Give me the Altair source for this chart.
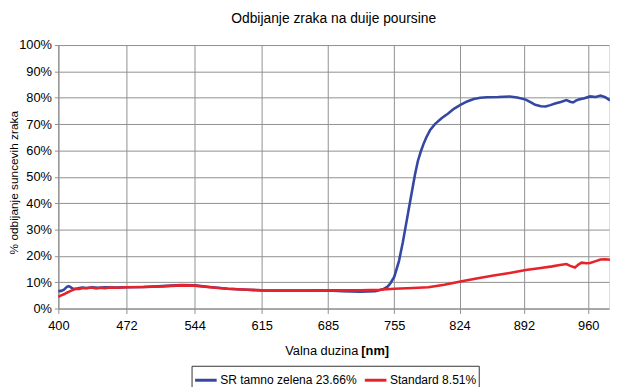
import altair as alt
import pandas as pd

# ---- data ----
series_names = ["SR tamno zelena 23.66%", "Standard 8.51%"]
series_colors = ["#3447a2", "#e8222a"]

wl_blue = [400, 403, 406, 409, 411, 413, 415, 418, 421, 425, 430, 436, 442, 449, 460, 472,
           490, 510, 530, 544, 560, 579, 600, 615, 640, 660, 685, 700, 719, 735, 743, 748,
           751, 755, 760, 764, 767, 770, 772, 775, 777, 780, 783, 786, 789, 793, 798, 805,
           812, 818, 825, 832, 839, 846, 853, 865, 877, 885, 894, 899, 904, 910, 915, 920,
           925, 931, 937, 941, 944, 947, 950, 956, 962, 968, 973, 978, 983]
val_blue = [6.6, 6.7, 7.2, 8.2, 8.5, 8.1, 7.6, 7.4, 7.7, 8.0, 7.8, 8.1, 7.9, 8.1, 8.0, 8.1,
            8.2, 8.5, 8.9, 8.8, 8.2, 7.5, 7.1, 6.9, 6.8, 6.8, 6.9, 6.6, 6.4, 6.6, 7.3, 8.3,
            9.6, 12.0, 18.0, 25.0, 31.0, 37.0, 41.0, 47.0, 51.0, 56.0, 59.5, 62.5, 65.0, 67.8, 70.0, 72.2,
            74.0, 75.8, 77.3, 78.6, 79.5, 80.0, 80.2, 80.3, 80.5, 80.1, 79.3, 78.3, 77.3, 76.8, 76.7, 77.2,
            77.8, 78.4, 79.1, 78.5, 78.2, 78.9, 79.3, 79.8, 80.5, 80.3, 80.8, 80.2, 79.0]

wl_red = [400, 403, 406, 409, 412, 415, 418, 422, 426, 430, 435, 440, 445, 449, 455, 462, 472,
          490, 510, 530, 544, 560, 579, 600, 615, 640, 660, 685, 700, 719, 740, 755, 775, 791,
          808, 825, 842, 860, 877, 894, 908, 922, 930, 937, 941, 946, 950, 953, 958, 962, 968,
          973, 978, 983]
val_red = [4.4, 5.0, 5.4, 6.0, 6.5, 7.0, 7.5, 7.4, 7.8, 7.7, 8.0, 7.6, 7.9, 7.7, 8.0, 7.9, 8.1,
           8.2, 8.4, 8.8, 8.7, 8.1, 7.5, 7.1, 6.9, 6.8, 6.8, 6.9, 6.9, 6.9, 7.1, 7.5, 7.8, 8.1,
           9.0, 10.3, 11.4, 12.5, 13.5, 14.6, 15.3, 16.0, 16.5, 16.9, 16.2, 15.6, 16.8, 17.4, 17.2, 17.3, 18.0,
           18.6, 18.7, 18.5]

x_ticks = [400, 472, 544, 615, 685, 755, 824, 892, 960]
y_ticks = [0, 10, 20, 30, 40, 50, 60, 70, 80, 90, 100]

title_text = "Odbijanje zraka na duije poursine"
y_title = "% odbijanje suncevih zraka"
x_title_plain = "Valna duzina"
x_title_bold = "[nm]"

FONT = "Liberation Sans, Arial, sans-serif"
GRID = "#8f8f8f"

df_blue = pd.DataFrame({"wl": wl_blue, "val": val_blue, "series": series_names[0]})
df_red = pd.DataFrame({"wl": wl_red, "val": val_red, "series": series_names[1]})

x_enc = alt.X("wl:Q",
              scale=alt.Scale(domain=[400, 982], nice=False, zero=False),
              axis=alt.Axis(values=x_ticks, title=None, grid=True, gridColor=GRID,
                            domainColor=GRID, tickColor=GRID, tickSize=5,
                            labelFontSize=13, labelPadding=6, labelColor="#000",
                            labelFont=FONT, labelFlush=False))
y_enc = alt.Y("val:Q",
              scale=alt.Scale(domain=[0, 100], nice=False),
              axis=alt.Axis(values=y_ticks, labelExpr="datum.value + '%'",
                            title=y_title, grid=True, gridColor=GRID,
                            domainColor=GRID, tickColor=GRID, tickSize=4,
                            labelFontSize=13, labelPadding=3, labelColor="#000",
                            labelFont=FONT, titleFont=FONT, titleFontSize=12,
                            titleFontWeight="normal", titleColor="#000",
                            titleX=-45, titleY=139, titleAngle=270,
                            titleAlign="center", titleBaseline="middle"))
color_enc = alt.Color("series:N",
                      scale=alt.Scale(domain=series_names, range=series_colors),
                      legend=alt.Legend(title=None, orient="none", direction="horizontal",
                                        legendX=135, legendY=325,
                                        symbolType="stroke", symbolSize=480,
                                        symbolStrokeWidth=3, labelFontSize=12.2,
                                        labelFont=FONT, labelColor="#000",
                                        labelOffset=2, columnPadding=1,
                                        padding=2, strokeColor="#333",
                                        fillColor="white"))

blue = alt.Chart(df_blue).mark_line(strokeWidth=2.6).encode(x=x_enc, y=y_enc, color=color_enc)
red = alt.Chart(df_red).mark_line(strokeWidth=2.6).encode(x=x_enc, y=y_enc, color=color_enc)

lab = pd.DataFrame({"a": [0]})
xt1 = alt.Chart(lab).mark_text(text=x_title_plain, align="right", baseline="middle",
                               font=FONT, fontSize=13, color="#000").encode(
    x=alt.value(304), y=alt.value(310))
xt2 = alt.Chart(lab).mark_text(text=x_title_bold, align="left", baseline="middle",
                               font=FONT, fontSize=13, fontWeight="bold", color="#000").encode(
    x=alt.value(307), y=alt.value(310))

chart = alt.layer(blue, red, xt1, xt2).properties(
    width=558, height=267,
    title=alt.TitleParams(title_text, font=FONT, fontSize=14, fontWeight="normal",
                          color="#000", offset=13, anchor="middle"),
    autosize=alt.AutoSizeParams(type="none"),
    padding={"left": 51, "top": 35, "right": 1, "bottom": 79},
).configure_view(stroke=GRID, strokeWidth=1).configure(background="white")

chart.save("out.html", embed_options={"renderer": "svg", "actions": False})
